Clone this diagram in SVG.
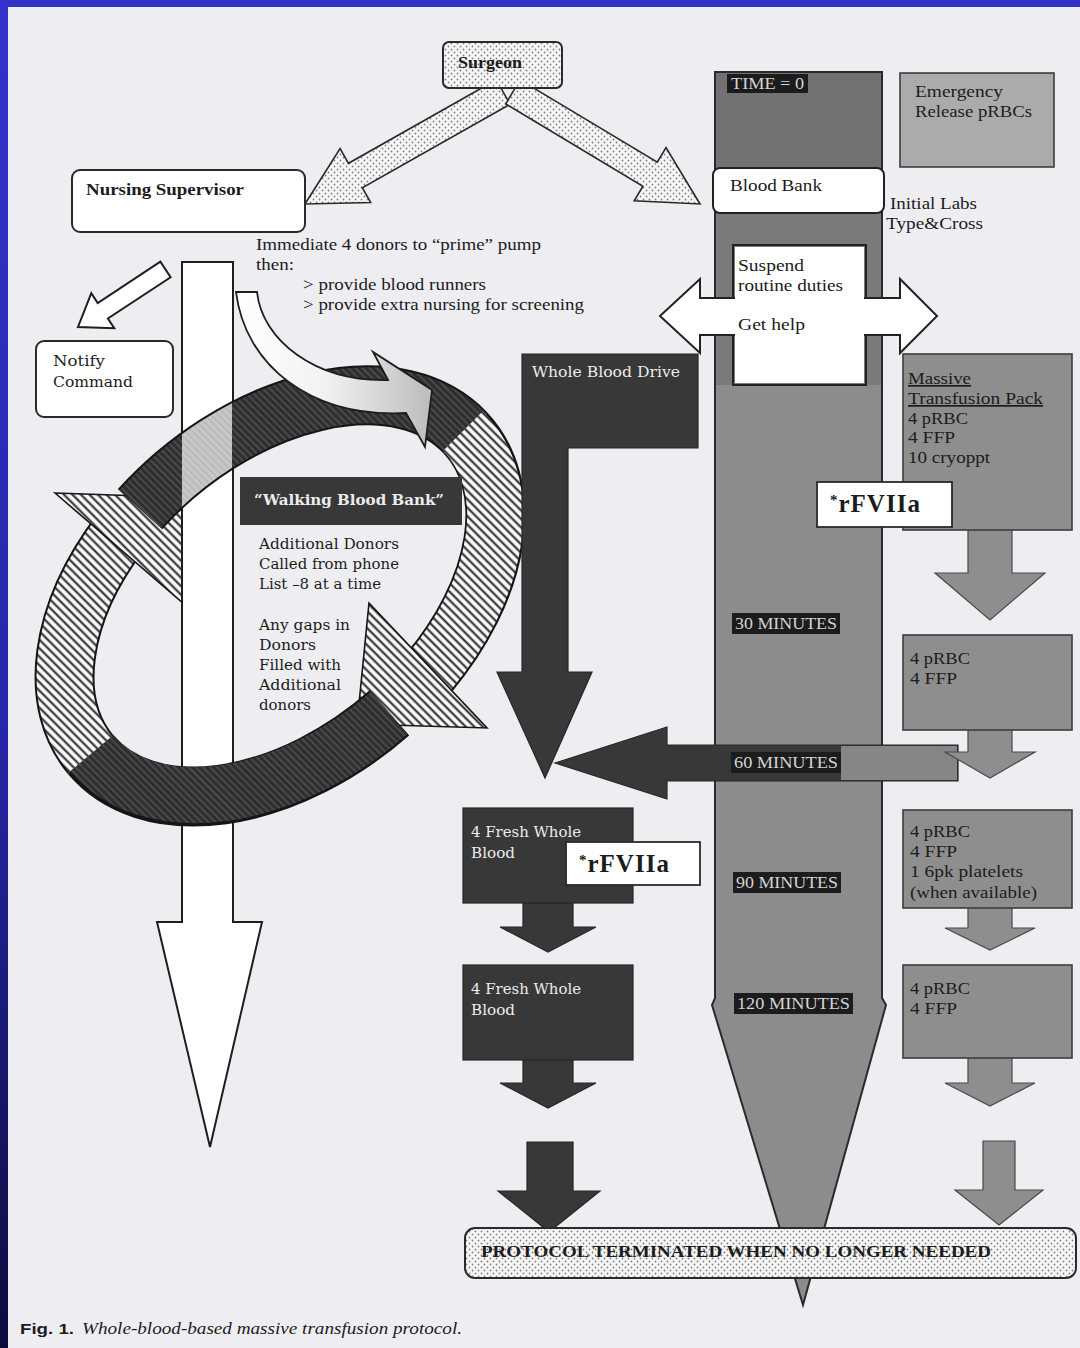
<svg xmlns="http://www.w3.org/2000/svg" width="1080" height="1348" viewBox="0 0 1080 1348">
<defs>
  <linearGradient id="leftBar" x1="0" y1="0" x2="0" y2="1">
    <stop offset="0" stop-color="#3434cc"/>
    <stop offset="0.55" stop-color="#2626a8"/>
    <stop offset="1" stop-color="#0c0c3c"/>
  </linearGradient>
  <linearGradient id="curveGrad" x1="236" y1="0" x2="432" y2="0" gradientUnits="userSpaceOnUse">
    <stop offset="0" stop-color="#ffffff"/>
    <stop offset="0.45" stop-color="#f2f2f2"/>
    <stop offset="1" stop-color="#bcbcbc"/>
  </linearGradient>
  <clipPath id="shaftClip">
    <rect x="182" y="380" width="50" height="160"/>
  </clipPath>
  <pattern id="dots" width="6" height="6" patternUnits="userSpaceOnUse">
    <rect width="6" height="6" fill="#f6f6f6"/>
    <circle cx="1.5" cy="1.5" r="0.9" fill="#808080"/>
    <circle cx="4.5" cy="4.5" r="0.9" fill="#808080"/>
  </pattern>
  <pattern id="hatch" width="6" height="6" patternUnits="userSpaceOnUse" patternTransform="rotate(-45)">
    <rect width="6" height="6" fill="#fafafa"/>
    <line x1="1.5" y1="0" x2="1.5" y2="6" stroke="#222" stroke-width="2"/>
  </pattern>
  <pattern id="hatchD" width="5" height="5" patternUnits="userSpaceOnUse" patternTransform="rotate(-45)">
    <rect width="5" height="5" fill="#2e2e2e"/>
    <line x1="1" y1="0" x2="1" y2="5" stroke="#555" stroke-width="1.4"/>
  </pattern>
  <pattern id="hatchG" width="5" height="5" patternUnits="userSpaceOnUse" patternTransform="rotate(-45)">
    <rect width="5" height="5" fill="#c8c8c8"/>
    <line x1="1" y1="0" x2="1" y2="5" stroke="#b4b4b4" stroke-width="1.4"/>
  </pattern>
  <style>
    .t { font-family: "Liberation Serif", "DejaVu Serif", serif; font-size: 17px; fill: #1c1c1c; }
    .s { font-family: "DejaVu Serif", "Liberation Serif", serif; font-size: 15px; fill: #1c1c1c; }
    .b { font-weight: bold; }
    .wt { fill: #ececec; }
    .lab { font-family: "Liberation Serif", serif; font-size: 16px; fill: #d4d4d4; }
    .labbox { fill: #1c1c1c; }
    .dk { fill: #383838; stroke: #262626; stroke-width: 1.2; }
    .gbox { fill: #8e8e8e; stroke: #3c3c3c; stroke-width: 1.6; }
    .garr { fill: #8e8e8e; stroke: #4a4a4a; stroke-width: 1.2; }
    .wbox { fill: #ffffff; stroke: #2a2a2a; stroke-width: 1.8; }
    .out { fill: none; stroke: #151515; stroke-width: 60; }
    .fillH { fill: none; stroke: url(#hatch); stroke-width: 56; }
    .fillD { fill: none; stroke: url(#hatchD); stroke-width: 56; }
    .fillG { fill: none; stroke: url(#hatchG); stroke-width: 56; }
    .head { stroke: #151515; stroke-width: 1.6; }
    .rf { font-family: "Liberation Serif", serif; font-weight: bold; font-size: 25px; fill: #1c1c1c; letter-spacing: 1px; }
  </style>
</defs>

<!-- page -->
<rect x="0" y="0" width="1080" height="1348" fill="#eeeef2"/>
<rect x="0" y="0" width="1080" height="7" fill="#3232c8"/>
<rect x="0" y="0" width="8" height="1348" fill="url(#leftBar)"/>

<!-- timeline column -->
<g id="timeline">
  <path d="M715,72 H882 V998 L886,1005 L803,1305 L712,1005 L715,998 Z" fill="#8c8c8c" stroke="#2a2a2a" stroke-width="2"/>
  <rect x="716" y="73" width="165" height="95" fill="#727272"/>
  <rect x="716" y="212" width="165" height="173" fill="#7a7a7a"/>
</g>

<g id="connectors">
  <!-- surgeon arrows -->
  <polygon points="496.3,79.8 348.5,163.3 340.1,148.5 305,204 370.7,202.5 362.3,187.7 510.1,104.2" fill="url(#dots)" stroke="#2a2a2a" stroke-width="1.6"/>
  <polygon points="520.1,79.9 657.3,162.2 666,147.6 700,204 634.2,200.8 642.9,186.2 505.7,103.9" fill="url(#dots)" stroke="#2a2a2a" stroke-width="1.6"/>

  <!-- notify arrow -->
  <polygon points="160.4,261.7 97.7,303 91.3,293.1 78,327 114.3,328.3 107.9,318.5 170.6,277.3" fill="#ffffff" stroke="#1e1e1e" stroke-width="2"/>

  <!-- cycle: left hatched band and arrowhead (behind shaft) -->
  <path class="out" d="M90.8,754.8 A247,160 -40 0 1 121,531.8"/>
  <path class="fillH" d="M90.8,754.8 A247,160 -40 0 1 121,531.8"/>
  <polygon class="head" points="55,493 198,498 198,616" fill="url(#hatch)"/>

  <!-- long white arrow -->
  <polygon points="182,262 233,262 233,922 262,922 210,1147 157,922 182,922" fill="#ffffff" stroke="#1e1e1e" stroke-width="2"/>

  <!-- cycle: upper band -->
  <path class="out" d="M140.1,509.1 A247,160 -40 0 1 465.5,433"/>
  <path class="fillD" d="M140.1,509.1 A247,160 -40 0 1 465.5,433"/>
  <path class="fillG" clip-path="url(#shaftClip)" d="M140.1,509.1 A247,160 -40 0 1 465.5,433"/>
  <path class="out" d="M465.5,433 A247,160 -40 0 1 428.4,673.3"/>
  <path class="fillH" d="M463,431 A247,160 -40 0 1 428.4,673.3"/>
  <polygon class="head" points="369,603 487,728 357,724" fill="url(#hatch)"/>

  <!-- curved arrow from shaft -->
  <path d="M236,292 L257,292 C262,340 315,382 388,380 L373,352 L432,390 L425,447 L406,413 C310,418 245,365 236,292 Z" fill="url(#curveGrad)" stroke="#1e1e1e" stroke-width="1.8"/>

  <!-- cycle: bottom dark band (in front) -->
  <path class="out" d="M389.4,712.9 A247,160 -40 0 1 90.8,754.8"/>
  <path class="fillD" d="M389.4,712.9 A247,160 -40 0 1 92,753"/>

  <!-- whole blood drive -->
  <path class="dk" d="M522,354 H698 V448 H568 V672 H592 L545,778 L497,672 H522 Z"/>

  <!-- 60 minutes arrow -->
  <polygon class="dk" points="555,763 667,727 667,745 958,745 958,781 667,781 667,799"/>
  <rect x="841" y="746" width="116" height="34" fill="#868686"/>

  <!-- double arrow get help -->
  <polygon points="660,316 700,279 700,298 900,298 900,279 937,316 900,353 900,335 700,335 700,353" fill="#ffffff" stroke="#222" stroke-width="2"/>

  <!-- fresh whole blood arrows -->
  <path class="dk" d="M523,902 H573 V927 H596 L548,952 L500,927 H523 Z"/>
  <path class="dk" d="M523,1059 H573 V1083 H596 L548,1108 L500,1083 H523 Z"/>
  <path class="dk" d="M527,1142 H573 V1191 H600 L549,1232 L498,1191 H527 Z"/>

  <!-- gray arrows right -->
  <path class="garr" d="M968,529 H1012 V573 H1045 L990,620 L935,573 H968 Z"/>
  <path class="garr" d="M968,729 H1012 V752 H1035 L990,778 L945,752 H968 Z"/>
  <path class="garr" d="M968,907 H1012 V928 H1035 L990,950 L945,928 H968 Z"/>
  <path class="garr" d="M968,1057 H1012 V1083 H1035 L990,1106 L945,1083 H968 Z"/>
  <path class="garr" d="M983,1141 H1015 V1190 H1043 L999,1225 L955,1190 H983 Z"/>
</g>

<g id="surgeon">
  <rect x="443" y="42" width="119" height="46" rx="6" fill="url(#dots)" stroke="#2a2a2a" stroke-width="2"/>
  <text class="t b" x="458" y="68" textLength="64" lengthAdjust="spacingAndGlyphs">Surgeon</text>
</g>

<g id="nursing-supervisor">
  <rect x="72" y="170" width="233" height="62" rx="8" fill="#ffffff" stroke="#2a2a2a" stroke-width="2"/>
  <text class="t b" x="86" y="195" textLength="158" lengthAdjust="spacingAndGlyphs">Nursing Supervisor</text>
</g>

<g id="nursing-instructions">
  <text class="t" x="256" y="250" textLength="285" lengthAdjust="spacingAndGlyphs">Immediate 4 donors to “prime” pump</text>
  <text class="t" x="256" y="270" textLength="38" lengthAdjust="spacingAndGlyphs">then:</text>
  <text class="t" x="303" y="290" textLength="183" lengthAdjust="spacingAndGlyphs">&gt; provide blood runners</text>
  <text class="t" x="303" y="310" textLength="281" lengthAdjust="spacingAndGlyphs">&gt; provide extra nursing for screening</text>
</g>

<g id="notify-command">
  <rect x="36" y="341" width="137" height="76" rx="8" fill="#ffffff" stroke="#2a2a2a" stroke-width="2"/>
  <text class="s" x="53" y="366" textLength="52" lengthAdjust="spacingAndGlyphs">Notify</text>
  <text class="s" x="53" y="387" textLength="80" lengthAdjust="spacingAndGlyphs">Command</text>
</g>

<g id="walking-blood-bank">
  <rect x="240" y="477" width="222" height="48" fill="#383838"/>
  <text class="s b wt" x="254" y="505" textLength="190" lengthAdjust="spacingAndGlyphs">“Walking Blood Bank”</text>
  <text class="s" x="259" y="549" textLength="140" lengthAdjust="spacingAndGlyphs">Additional Donors</text>
  <text class="s" x="259" y="569" textLength="140" lengthAdjust="spacingAndGlyphs">Called from phone</text>
  <text class="s" x="259" y="589" textLength="122" lengthAdjust="spacingAndGlyphs">List –8 at a time</text>
  <text class="s" x="259" y="630" textLength="91" lengthAdjust="spacingAndGlyphs">Any gaps in</text>
  <text class="s" x="259" y="650" textLength="57" lengthAdjust="spacingAndGlyphs">Donors</text>
  <text class="s" x="259" y="670" textLength="82" lengthAdjust="spacingAndGlyphs">Filled with</text>
  <text class="s" x="259" y="690" textLength="82" lengthAdjust="spacingAndGlyphs">Additional</text>
  <text class="s" x="259" y="710" textLength="52" lengthAdjust="spacingAndGlyphs">donors</text>
</g>

<g id="whole-blood-drive">
  <text class="s wt" x="532" y="377" textLength="148" lengthAdjust="spacingAndGlyphs">Whole Blood Drive</text>
</g>

<g id="time-0">
  <rect class="labbox" x="727" y="74" width="81" height="19"/>
  <text class="lab" x="731" y="89" textLength="73" lengthAdjust="spacingAndGlyphs">TIME = 0</text>
</g>

<g id="emergency-release">
  <rect x="900" y="73" width="154" height="94" fill="#ababab" stroke="#3c3c3c" stroke-width="1.6"/>
  <text class="t" x="915" y="97" textLength="88" lengthAdjust="spacingAndGlyphs">Emergency</text>
  <text class="t" x="915" y="117" textLength="117" lengthAdjust="spacingAndGlyphs">Release pRBCs</text>
</g>

<g id="blood-bank">
  <rect x="713" y="168" width="171" height="45" rx="7" fill="#ffffff" stroke="#222" stroke-width="2"/>
  <text class="t" x="730" y="191" textLength="92" lengthAdjust="spacingAndGlyphs">Blood Bank</text>
  <text class="t" x="890" y="209" textLength="87" lengthAdjust="spacingAndGlyphs">Initial Labs</text>
  <text class="t" x="886" y="229" textLength="97" lengthAdjust="spacingAndGlyphs">Type&amp;Cross</text>
</g>

<g id="suspend-duties">
  <rect x="735" y="247" width="129" height="136" fill="#ffffff"/>
  <path d="M733,298 V245 H866 V298 M866,335 V385 H733 V335" fill="none" stroke="#222" stroke-width="2"/>
  <text class="t" x="738" y="271" textLength="66" lengthAdjust="spacingAndGlyphs">Suspend</text>
  <text class="t" x="738" y="291" textLength="105" lengthAdjust="spacingAndGlyphs">routine duties</text>
  <text class="t" x="738" y="330" textLength="67" lengthAdjust="spacingAndGlyphs">Get help</text>
</g>

<g id="massive-transfusion-pack">
  <rect class="gbox" x="903" y="354" width="169" height="176"/>
  <text class="t" x="908" y="384" textLength="63" lengthAdjust="spacingAndGlyphs" text-decoration="underline">Massive</text>
  <text class="t" x="908" y="404" textLength="135" lengthAdjust="spacingAndGlyphs" text-decoration="underline">Transfusion Pack</text>
  <text class="t" x="908" y="424" textLength="60" lengthAdjust="spacingAndGlyphs">4 pRBC</text>
  <text class="t" x="908" y="443" textLength="47" lengthAdjust="spacingAndGlyphs">4 FFP</text>
  <text class="t" x="908" y="463" textLength="82" lengthAdjust="spacingAndGlyphs">10 cryoppt</text>
</g>

<g id="rfviia-1">
  <rect class="wbox" x="817" y="482" width="135" height="45"/>
  <text class="rf" x="830" y="512"><tspan font-size="15" dy="-7">*</tspan><tspan dy="7">rFVIIa</tspan></text>
</g>

<g id="pack-2">
  <rect class="gbox" x="903" y="635" width="169" height="95"/>
  <text class="t" x="910" y="664" textLength="60" lengthAdjust="spacingAndGlyphs">4 pRBC</text>
  <text class="t" x="910" y="684" textLength="47" lengthAdjust="spacingAndGlyphs">4 FFP</text>
</g>

<g id="pack-3">
  <rect class="gbox" x="903" y="810" width="169" height="98"/>
  <text class="t" x="910" y="837" textLength="60" lengthAdjust="spacingAndGlyphs">4 pRBC</text>
  <text class="t" x="910" y="857" textLength="47" lengthAdjust="spacingAndGlyphs">4 FFP</text>
  <text class="t" x="910" y="877" textLength="113" lengthAdjust="spacingAndGlyphs">1 6pk platelets</text>
  <text class="t" x="910" y="898" textLength="127" lengthAdjust="spacingAndGlyphs">(when available)</text>
</g>

<g id="pack-4">
  <rect class="gbox" x="903" y="965" width="169" height="93"/>
  <text class="t" x="910" y="994" textLength="60" lengthAdjust="spacingAndGlyphs">4 pRBC</text>
  <text class="t" x="910" y="1014" textLength="47" lengthAdjust="spacingAndGlyphs">4 FFP</text>
</g>

<g id="fresh-whole-blood-1">
  <rect class="dk" x="463" y="808" width="170" height="95"/>
  <text class="s wt" x="471" y="837" textLength="110" lengthAdjust="spacingAndGlyphs">4 Fresh Whole</text>
  <text class="s wt" x="471" y="858" textLength="44" lengthAdjust="spacingAndGlyphs">Blood</text>
</g>

<g id="rfviia-2">
  <rect class="wbox" x="566" y="842" width="134" height="43"/>
  <text class="rf" x="579" y="872"><tspan font-size="15" dy="-7">*</tspan><tspan dy="7">rFVIIa</tspan></text>
</g>

<g id="fresh-whole-blood-2">
  <rect class="dk" x="463" y="965" width="170" height="95"/>
  <text class="s wt" x="471" y="994" textLength="110" lengthAdjust="spacingAndGlyphs">4 Fresh Whole</text>
  <text class="s wt" x="471" y="1015" textLength="44" lengthAdjust="spacingAndGlyphs">Blood</text>
</g>

<g id="time-labels">
  <rect class="labbox" x="732" y="613" width="108" height="21"/>
  <text class="lab" x="735" y="629" textLength="102" lengthAdjust="spacingAndGlyphs">30 MINUTES</text>
  <rect class="labbox" x="731" y="752" width="110" height="21"/>
  <text class="lab" x="734" y="768" textLength="104" lengthAdjust="spacingAndGlyphs">60 MINUTES</text>
  <rect class="labbox" x="733" y="872" width="108" height="21"/>
  <text class="lab" x="736" y="888" textLength="102" lengthAdjust="spacingAndGlyphs">90 MINUTES</text>
  <rect class="labbox" x="734" y="993" width="119" height="21"/>
  <text class="lab" x="737" y="1009" textLength="113" lengthAdjust="spacingAndGlyphs">120 MINUTES</text>
</g>

<g id="protocol-terminated">
  <rect x="465" y="1228" width="611" height="50" rx="10" fill="url(#dots)" stroke="#2a2a2a" stroke-width="2"/>
  <text class="t b" x="481" y="1257" textLength="510" lengthAdjust="spacingAndGlyphs">PROTOCOL TERMINATED WHEN NO LONGER NEEDED</text>
</g>

<g id="caption">
  <text x="20" y="1334" font-family="Liberation Sans, sans-serif" font-weight="bold" font-size="15" fill="#1c1c1c" textLength="54" lengthAdjust="spacingAndGlyphs">Fig. 1.</text>
  <text x="82" y="1334" font-family="Liberation Serif, serif" font-style="italic" font-size="16" fill="#1c1c1c" textLength="380" lengthAdjust="spacingAndGlyphs">Whole-blood-based massive transfusion protocol.</text>
</g>
</svg>
